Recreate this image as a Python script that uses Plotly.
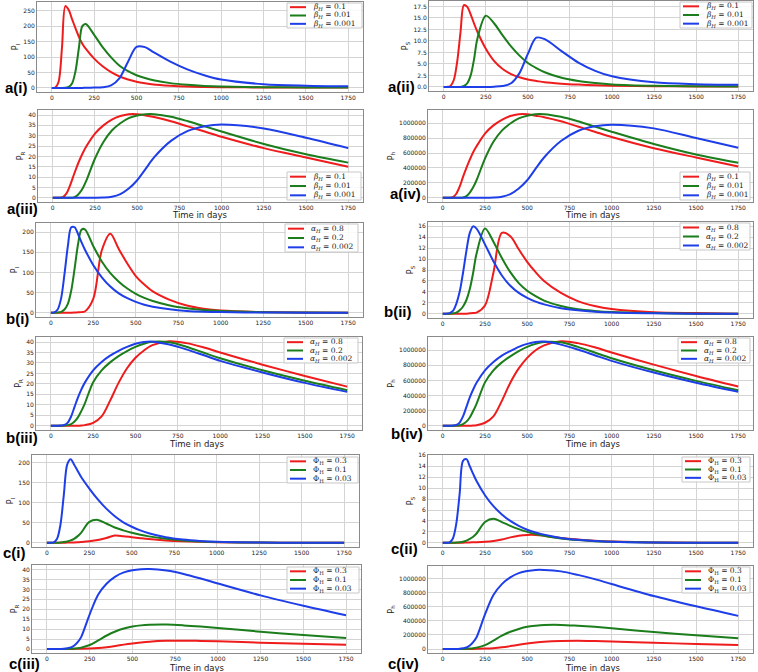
import numpy as np
import plotly.graph_objects as go

W, H = 758, 672

days = [0, 20, 40, 60, 80, 100, 120, 140, 160, 180, 200, 250, 300, 350, 400,
        450, 500, 550, 600, 700, 800, 900, 1000, 1250, 1500, 1750]

beta_labels = ["<i>β<sub>H</sub></i> = 0.1", "<i>β<sub>H</sub></i> = 0.01", "<i>β<sub>H</sub></i> = 0.001"]
alpha_labels = ["<i>α<sub>H</sub></i> = 0.8", "<i>α<sub>H</sub></i> = 0.2", "<i>α<sub>H</sub></i> = 0.002"]
phi_labels = ["Φ<sub>H</sub> = 0.3", "Φ<sub>H</sub> = 0.1", "Φ<sub>H</sub> = 0.03"]

# a: varying beta_H
ai_red = [0, 1, 20, 130, 265, 252, 222, 193, 165, 143, 127, 95, 70, 51, 37, 27, 20, 15, 11, 7, 4.5, 3.2, 2.4, 1.5, 1.1, 1]
ai_green = [0, 0, 0, 0, 0.5, 3, 15, 55, 130, 200, 207, 172, 132, 99, 72, 54, 41, 32, 25, 15.5, 10, 6.5, 4.5, 2.2, 1.5, 1]
ai_blue = [0, 0, 0, 0, 0, 0, 0, 0, 0, 0, 0.5, 1, 2, 8, 32, 85, 133, 132, 116, 85, 60, 41, 27, 12, 7, 5]

aii_red = [0, 0, 0.2, 1.5, 5.5, 12, 17.8, 17.4, 15.8, 13.8, 12, 8.3, 5.6, 3.9, 2.8, 2.1, 1.6, 1.3, 1.0, 0.7, 0.5, 0.35, 0.25, 0.15, 0.1, 0.1]
aii_green = [0, 0, 0, 0, 0, 0, 0.2, 0.8, 2.5, 6, 10.5, 15.5, 13.8, 11.2, 8.8, 6.8, 5.2, 4.1, 3.2, 2.0, 1.3, 0.85, 0.55, 0.25, 0.15, 0.1]
aii_blue = [0, 0, 0, 0, 0, 0, 0, 0, 0, 0, 0, 0, 0.05, 0.2, 0.8, 3, 7.2, 10.7, 10.4, 7.8, 5.3, 3.5, 2.3, 1.0, 0.6, 0.45]

aiii_red = [0, 0, 0, 0.3, 2, 5.5, 10, 14.5, 18.5, 22, 25, 31, 35, 37.8, 39.5, 40.4, 40.4, 39.8, 39, 37, 34.5, 32, 29.5, 24, 19.5, 15]
aiii_green = [0, 0, 0, 0, 0, 0, 0.1, 0.8, 2.5, 5, 8.5, 19, 27, 32.5, 36, 38.5, 39.8, 40.4, 40.4, 39.2, 37, 34.5, 32, 26, 21, 17]
aiii_blue = [0, 0, 0, 0, 0, 0, 0, 0, 0, 0, 0, 0, 0.1, 0.5, 1.8, 4.5, 8.5, 14, 19.5, 27.5, 32.3, 34.6, 35.4, 33.5, 29, 24]

aiv_red = [0, 0, 0, 8000, 55000, 150000, 280000, 400000, 510000, 610000, 690000, 860000, 970000, 1045000, 1095000,
           1120000, 1120000, 1100000, 1080000, 1025000, 955000, 885000, 815000, 665000, 540000, 420000]
aiv_green = [0, 0, 0, 0, 0, 0, 3000, 22000, 70000, 140000, 235000, 525000, 750000, 900000, 995000,
             1065000, 1100000, 1120000, 1120000, 1085000, 1025000, 955000, 885000, 720000, 580000, 470000]
aiv_blue = [0, 0, 0, 0, 0, 0, 0, 0, 0, 0, 0, 0, 3000, 14000, 50000,
            125000, 235000, 390000, 540000, 760000, 895000, 958000, 980000, 930000, 800000, 670000]

# b: varying alpha_H
bi_red = [0, 0, 0, 0, 0, 0, 0.2, 0.5, 1, 1.5, 3, 35, 155, 196, 158, 122, 91, 70, 53, 32, 18, 10, 5.5, 1.5, 0.4, 0.1]
bi_green = [0, 0, 0.5, 2, 8, 22, 55, 110, 170, 206, 207, 165, 127, 98, 77, 60, 47, 37, 29, 18, 11, 6.5, 4, 1.2, 0.4, 0.1]
bi_blue = [0, 1, 8, 35, 95, 165, 212, 212, 195, 175, 157, 118, 88, 65, 48, 36, 27, 20, 15, 8.5, 4.5, 2.5, 1.5, 0.5, 0.2, 0.1]

bii_red = [0, 0, 0, 0, 0, 0, 0, 0, 0.05, 0.1, 0.2, 1.5, 7.5, 14.8, 14.2, 11.8, 9.5, 7.6, 6, 3.8, 2.3, 1.4, 0.85, 0.25, 0.1, 0]
bii_green = [0, 0, 0, 0.05, 0.2, 0.6, 1.3, 2.5, 4.5, 7.5, 11, 15.6, 13.2, 10.2, 7.6, 5.6, 4.2, 3.2, 2.4, 1.4, 0.8, 0.5, 0.3, 0.1, 0, 0]
bii_blue = [0, 0, 0.1, 0.5, 1.8, 4, 7.5, 11.5, 14.8, 16, 15.6, 12.7, 9.6, 7, 5.1, 3.8, 2.9, 2.2, 1.7, 1.0, 0.6, 0.35, 0.2, 0.05, 0, 0]

biii_red = [0, 0, 0, 0, 0, 0, 0, 0, 0, 0.1, 0.3, 1.4, 4.5, 12, 20.5, 27.5, 32.5, 36, 38.5, 40.4, 39.5, 37.5, 35, 29.2, 23.8, 18.7]
biii_green = [0, 0, 0, 0, 0.1, 0.3, 0.8, 2, 4, 7, 10.5, 20.8, 26.5, 30.3, 33.3, 35.7, 37.7, 39.2, 40.1, 39.9, 37.8, 35, 32.3, 26.5, 21.5, 17]
biii_blue = [0, 0, 0, 0.1, 0.4, 1.5, 4.5, 9, 13.5, 17.3, 20.5, 26.5, 30.5, 33.5, 35.8, 37.7, 39.2, 40, 40.2, 38.8, 36.5, 33.8, 31, 25.5, 20.5, 16.2]

biv_red = [0, 0, 0, 0, 0, 0, 0, 0, 0, 3000, 8000, 40000, 125000, 330000, 570000,
           760000, 900000, 1000000, 1065000, 1120000, 1095000, 1040000, 970000, 810000, 660000, 520000]
biv_green = [0, 0, 0, 0, 3000, 8000, 22000, 55000, 110000, 195000, 290000, 575000, 735000, 840000, 920000,
             990000, 1045000, 1085000, 1110000, 1105000, 1045000, 970000, 895000, 735000, 595000, 470000]
biv_blue = [0, 0, 0, 3000, 11000, 42000, 125000, 250000, 375000, 480000, 570000, 735000, 845000, 930000, 990000,
            1045000, 1085000, 1110000, 1115000, 1075000, 1010000, 935000, 860000, 705000, 570000, 450000]

# c: varying Phi_H
ci_red = [0, 0, 0, 0.1, 0.2, 0.3, 0.5, 0.7, 1, 1.4, 2, 4, 7, 12, 18.2, 16.5, 14, 11.5, 9.3, 6, 3.8, 2.4, 1.5, 0.5, 0.2, 0]
ci_green = [0, 0, 0, 0.3, 1, 2, 3.5, 6, 10, 16, 24, 52, 57, 48, 38, 31, 25, 20, 16, 10, 6, 3.5, 2, 0.6, 0.2, 0]
ci_blue = [0, 0, 1, 10, 45, 120, 195, 208, 195, 180, 165, 135, 108, 85, 66, 51, 40, 31, 24, 14, 8, 4.5, 2.5, 0.7, 0.2, 0]

cii_red = [0, 0, 0, 0, 0, 0.02, 0.03, 0.05, 0.07, 0.1, 0.12, 0.2, 0.35, 0.6, 1.0, 1.3, 1.45, 1.45, 1.3, 0.9, 0.6, 0.38, 0.24, 0.07, 0.02, 0]
cii_green = [0, 0, 0, 0, 0.05, 0.1, 0.2, 0.4, 0.7, 1.1, 1.7, 3.8, 4.4, 3.8, 3.1, 2.5, 2.0, 1.6, 1.3, 0.8, 0.5, 0.3, 0.2, 0.05, 0, 0]
cii_blue = [0, 0, 0.1, 0.8, 3.5, 9, 15, 15.3, 14, 12.6, 11.3, 8.7, 6.7, 5.2, 4, 3.1, 2.4, 1.9, 1.5, 0.9, 0.55, 0.35, 0.2, 0.05, 0, 0]

ciii_red = [0, 0, 0, 0, 0, 0, 0, 0, 0.05, 0.08, 0.1, 0.2, 0.45, 0.9, 1.5, 2.2, 2.8, 3.3, 3.7, 4.1, 4.2, 4.05, 3.85, 3.2, 2.6, 2.1]
ciii_green = [0, 0, 0, 0, 0, 0, 0.05, 0.1, 0.2, 0.4, 0.7, 2, 4.3, 6.8, 8.8, 10.3, 11.3, 11.9, 12.2, 12.3, 11.9, 11.3, 10.6, 8.7, 7, 5.5]
ciii_blue = [0, 0, 0, 0, 0, 0.1, 0.4, 0.8, 1.8, 3.5, 6, 17.5, 27.5, 33, 36.5, 38.6, 39.7, 40.2, 40.3, 39.5, 37.8, 35.5, 33, 27, 21.8, 17]

civ_red = [0, 0, 0, 0, 0, 0, 0, 0, 1000, 2000, 3000, 6000, 13000, 25000, 42000,
           61000, 78000, 92000, 103000, 114000, 117000, 113000, 107000, 89000, 72000, 58000]
civ_green = [0, 0, 0, 0, 0, 0, 1000, 3000, 6000, 11000, 20000, 55000, 120000, 190000, 245000,
             285000, 315000, 330000, 340000, 342000, 330000, 315000, 295000, 240000, 195000, 152000]
civ_blue = [0, 0, 0, 0, 0, 3000, 11000, 22000, 50000, 97000, 167000, 490000, 765000, 920000, 1015000,
            1075000, 1105000, 1120000, 1120000, 1100000, 1050000, 990000, 920000, 750000, 605000, 470000]

colors = ["#ee1c1c", "#1b7d1b", "#1e3ee8"]

# name, y title, legend labels, curves, y dtick, tick format, x title
panels = [
    ("a(i)", "P<sub>I</sub>", beta_labels, [ai_red, ai_green, ai_blue], 50, "", ""),
    ("a(ii)", "P<sub>S</sub>", beta_labels, [aii_red, aii_green, aii_blue], 2.5, ".1f", ""),
    ("a(iii)", "P<sub>R</sub>", beta_labels, [aiii_red, aiii_green, aiii_blue], 5, "", "Time in days"),
    ("a(iv)", "P<sub>h</sub>", beta_labels, [aiv_red, aiv_green, aiv_blue], 200000, "d", "Time in days"),
    ("b(i)", "P<sub>I</sub>", alpha_labels, [bi_red, bi_green, bi_blue], 50, "", ""),
    ("b(ii)", "P<sub>S</sub>", alpha_labels, [bii_red, bii_green, bii_blue], 2, "", ""),
    ("b(iii)", "P<sub>R</sub>", alpha_labels, [biii_red, biii_green, biii_blue], 5, "", "Time in days"),
    ("b(iv)", "P<sub>h</sub>", alpha_labels, [biv_red, biv_green, biv_blue], 200000, "d", "Time in days"),
    ("c(i)", "P<sub>I</sub>", phi_labels, [ci_red, ci_green, ci_blue], 50, "", ""),
    ("c(ii)", "P<sub>S</sub>", phi_labels, [cii_red, cii_green, cii_blue], 2, "", ""),
    ("c(iii)", "P<sub>R</sub>", phi_labels, [ciii_red, ciii_green, ciii_blue], 5, "", "Time in days"),
    ("c(iv)", "P<sub>h</sub>", phi_labels, [civ_red, civ_green, civ_blue], 200000, "d", "Time in days"),
]

# pixel layout: frame (x0, x1, y0, y1), legend box (x0, y0, x1, y1), label centre, x-title centre
frames = [
    (37, 363, 2, 92), (429, 753, 1, 91),
    (38, 363, 110, 202), (428, 753, 110, 202),
    (36, 363, 223, 317), (428, 753, 222, 318),
    (36, 362, 337, 430), (428, 753, 337, 430),
    (32, 359, 455, 547), (428, 753, 455, 547),
    (32, 361, 565, 653), (428, 753, 566, 653),
]
legend_boxes = [
    (287, 3, 362, 28), (680, 2, 752, 28),
    (287, 172, 361, 200), (680, 172, 750, 200),
    (285, 224, 358, 252), (680, 223, 750, 250),
    (284, 338, 358, 363), (678, 338, 750, 363),
    (287, 457, 358, 483), (682, 457, 750, 482),
    (287, 567, 359, 593), (682, 567, 750, 593),
]
label_pos = [
    (16, 88), (401, 87),
    (22, 208), (405, 194),
    (17, 318), (398, 311),
    (22, 437), (407, 433),
    (14, 552), (404, 548),
    (24, 663), (403, 663),
]
xtitle_pos = [
    None, None, (200, 215), (593, 215),
    None, None, (197, 444), (593, 444),
    None, None, (197, 668), (593, 668),
]


def fx(x):
    return x / W


def fy(y):
    return 1 - y / H


fig = go.Figure()
shapes = []
annotations = []
tick_font = dict(family="DejaVu Sans", size=6, color="#222")

for i, (name, ytitle, labels, curves, dtick, fmt, xtitle) in enumerate(panels):
    n = i + 1
    xa = "x" if n == 1 else f"x{n}"
    ya = "y" if n == 1 else f"y{n}"
    for curve, color in zip(curves, colors):
        fig.add_trace(go.Scatter(
            x=days, y=curve, xaxis=xa, yaxis=ya, mode="lines",
            line=dict(color=color, width=2, shape="spline", smoothing=0.9),
            showlegend=False,
        ))
    allv = np.concatenate([np.asarray(c, dtype=float) for c in curves])
    lo, hi = allv.min(), allv.max()
    pad = 0.05 * (hi - lo)
    x0, x1, y0, y1 = frames[i]
    fig.update_layout({
        f"xaxis{'' if n == 1 else n}": dict(
            domain=[fx(x0), fx(x1)], anchor=ya, range=[-87.5, 1837.5],
            tick0=0, dtick=250, showgrid=True, gridcolor="#d4d4d4", gridwidth=1,
            showline=True, mirror=True, linecolor="#8a8a8a", linewidth=1,
            zeroline=False, tickfont=tick_font, automargin=False,
        ),
        f"yaxis{'' if n == 1 else n}": dict(
            domain=[fy(y1), fy(y0)], anchor=xa, range=[lo - pad, hi + pad],
            tick0=0, dtick=dtick, tickformat=fmt, showgrid=True, gridcolor="#d4d4d4", gridwidth=1,
            showline=True, mirror=True, linecolor="#8a8a8a", linewidth=1,
            zeroline=False, tickfont=tick_font, automargin=False,
            title=dict(text=ytitle, font=dict(family="DejaVu Sans", size=8, color="#222"), standoff=3),
        ),
    })

    if xtitle:
        tx, ty = xtitle_pos[i]
        annotations.append(dict(text=xtitle, xref="paper", yref="paper", x=fx(tx), y=fy(ty),
                                xanchor="center", yanchor="middle", showarrow=False,
                                font=dict(family="DejaVu Sans", size=8.5, color="#222")))

    # legend box
    lx0, ly0, lx1, ly1 = legend_boxes[i]
    shapes.append(dict(type="rect", xref="paper", yref="paper",
                       x0=fx(lx0), x1=fx(lx1), y0=fy(ly1), y1=fy(ly0),
                       line=dict(color="#c8c8c8", width=1), fillcolor="rgba(255,255,255,0.85)"))
    rowh = (ly1 - ly0) / 3
    for k, (lab, color) in enumerate(zip(labels, colors)):
        yy = ly0 + rowh * (k + 0.5)
        shapes.append(dict(type="line", xref="paper", yref="paper",
                           x0=fx(lx0 + 3), x1=fx(lx0 + 19), y0=fy(yy), y1=fy(yy),
                           line=dict(color=color, width=2)))
        annotations.append(dict(text=lab, xref="paper", yref="paper", x=fx(lx0 + 24), y=fy(yy),
                                xanchor="left", yanchor="middle", showarrow=False,
                                font=dict(family="DejaVu Serif", size=7.5, color="#222")))

    lx, ly = label_pos[i]
    annotations.append(dict(text=f"<b>{name}</b>", xref="paper", yref="paper", x=fx(lx), y=fy(ly),
                            xanchor="center", yanchor="middle", showarrow=False,
                            font=dict(family="Liberation Sans", size=15, color="black")))

fig.update_layout(
    width=W, height=H, margin=dict(l=0, r=0, t=0, b=0),
    paper_bgcolor="white", plot_bgcolor="white",
    shapes=shapes, annotations=annotations,
)

fig.write_html("out.html", config={"displayModeBar": False},
               post_script="document.body.style.margin = '0';")
